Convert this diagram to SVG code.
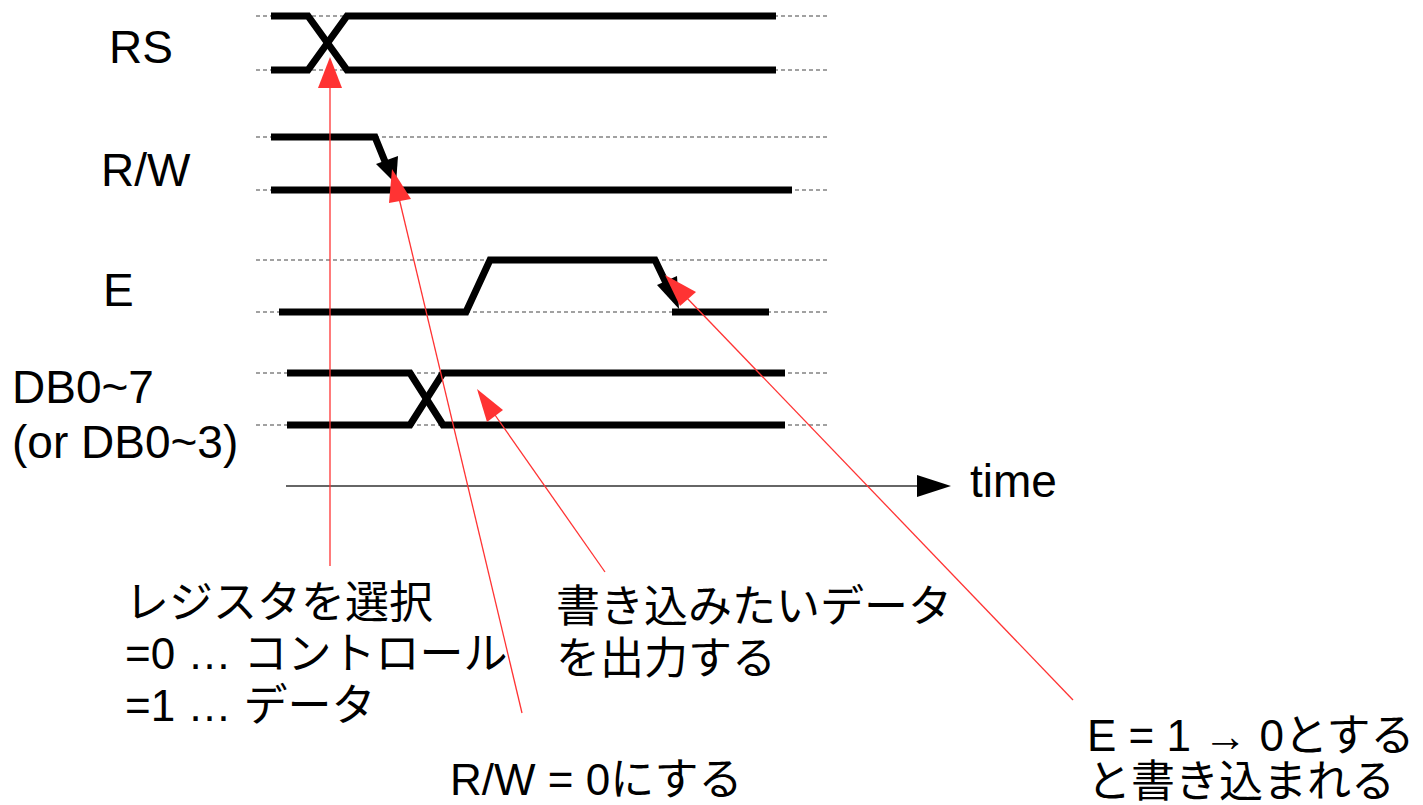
<svg xmlns="http://www.w3.org/2000/svg" width="1423" height="805" viewBox="0 0 1423 805">
<style>
.dash{stroke:#444;stroke-width:1.2;stroke-dasharray:4 3;fill:none}
.sig{stroke:#000;stroke-width:7;fill:none;stroke-linejoin:miter}
.red{stroke:#ff3333;stroke-width:1.3;fill:none}
.rh{fill:#ff3333}
.t{font-family:"Liberation Sans","Noto Sans CJK JP",sans-serif;font-size:44px;fill:#000}
.L{font-size:46px}
</style>
<rect width="1423" height="805" fill="#fff"/>
<g id="guides">
<line class="dash" x1="256" y1="16" x2="830" y2="16"/>
<line class="dash" x1="256" y1="70" x2="830" y2="70"/>
<line class="dash" x1="256" y1="137" x2="830" y2="137"/>
<line class="dash" x1="256" y1="190" x2="830" y2="190"/>
<line class="dash" x1="256" y1="260" x2="830" y2="260"/>
<line class="dash" x1="256" y1="312" x2="830" y2="312"/>
<line class="dash" x1="256" y1="373" x2="830" y2="373"/>
<line class="dash" x1="256" y1="425" x2="830" y2="425"/>
</g>
<g id="RS">
<text class="t L" x="109" y="63">RS</text>
<polyline class="sig" points="271,16 308,16 347,70 776,70"/>
<polyline class="sig" points="271,70 308,70 347,16 776,16"/>
</g>
<g id="RW">
<text class="t L" x="101" y="186">R/W</text>
<polyline class="sig" points="271,137 375,137 386,164"/>
<polygon points="376,164 398,156 396,184" fill="#000"/>
<line class="sig" x1="271" y1="190" x2="792" y2="190"/>
</g>
<g id="E">
<text class="t L" x="103" y="306">E</text>
<polyline class="sig" points="279,312 466,312 490,260 655,260 667,285"/>
<polygon points="657,285 677,276 679,309" fill="#000"/>
<line class="sig" x1="672" y1="312" x2="769" y2="312"/>
</g>
<g id="DB">
<text class="t L" x="12" y="403">DB0~7</text>
<text class="t L" x="12" y="458">(or DB0~3)</text>
<polyline class="sig" points="287,373 410,373 443,425 785,425"/>
<polyline class="sig" points="287,425 410,425 443,373 785,373"/>
</g>
<g id="time-axis">
<line x1="286" y1="486" x2="920" y2="486" stroke="#666" stroke-width="2"/>
<polygon points="917,475 951,486 917,497" fill="#000"/>
<text class="t L" x="970" y="497">time</text>
</g>
<g id="connectors">
<line class="red" x1="330" y1="566" x2="330" y2="86"/>
<polygon class="rh" points="330,57 342,88 318,88"/>
<line class="red" x1="522" y1="713" x2="399" y2="198"/>
<polygon class="rh" points="392,169 411,199 389,203"/>
<line class="red" x1="605" y1="572" x2="495" y2="415"/>
<polygon class="rh" points="477,389 503,410 487,422"/>
<line class="red" x1="1073" y1="700" x2="686" y2="297"/>
<polygon class="rh" points="665,275 696,292 680,306"/>
</g>
<g id="labels">
<text class="t" x="125" y="618">レジスタを選択</text>
<text class="t" x="125" y="669">=0 … コントロール</text>
<text class="t" x="125" y="721">=1 … データ</text>
<text class="t" x="556" y="622">書き込みたいデータ</text>
<text class="t" x="556" y="674">を出力する</text>
<text class="t" x="450" y="795">R/W = 0にする</text>
<text class="t" x="1087" y="751">E = 1 → 0とする</text>
<text class="t" x="1087" y="797">と書き込まれる</text>
</g>
</svg>
